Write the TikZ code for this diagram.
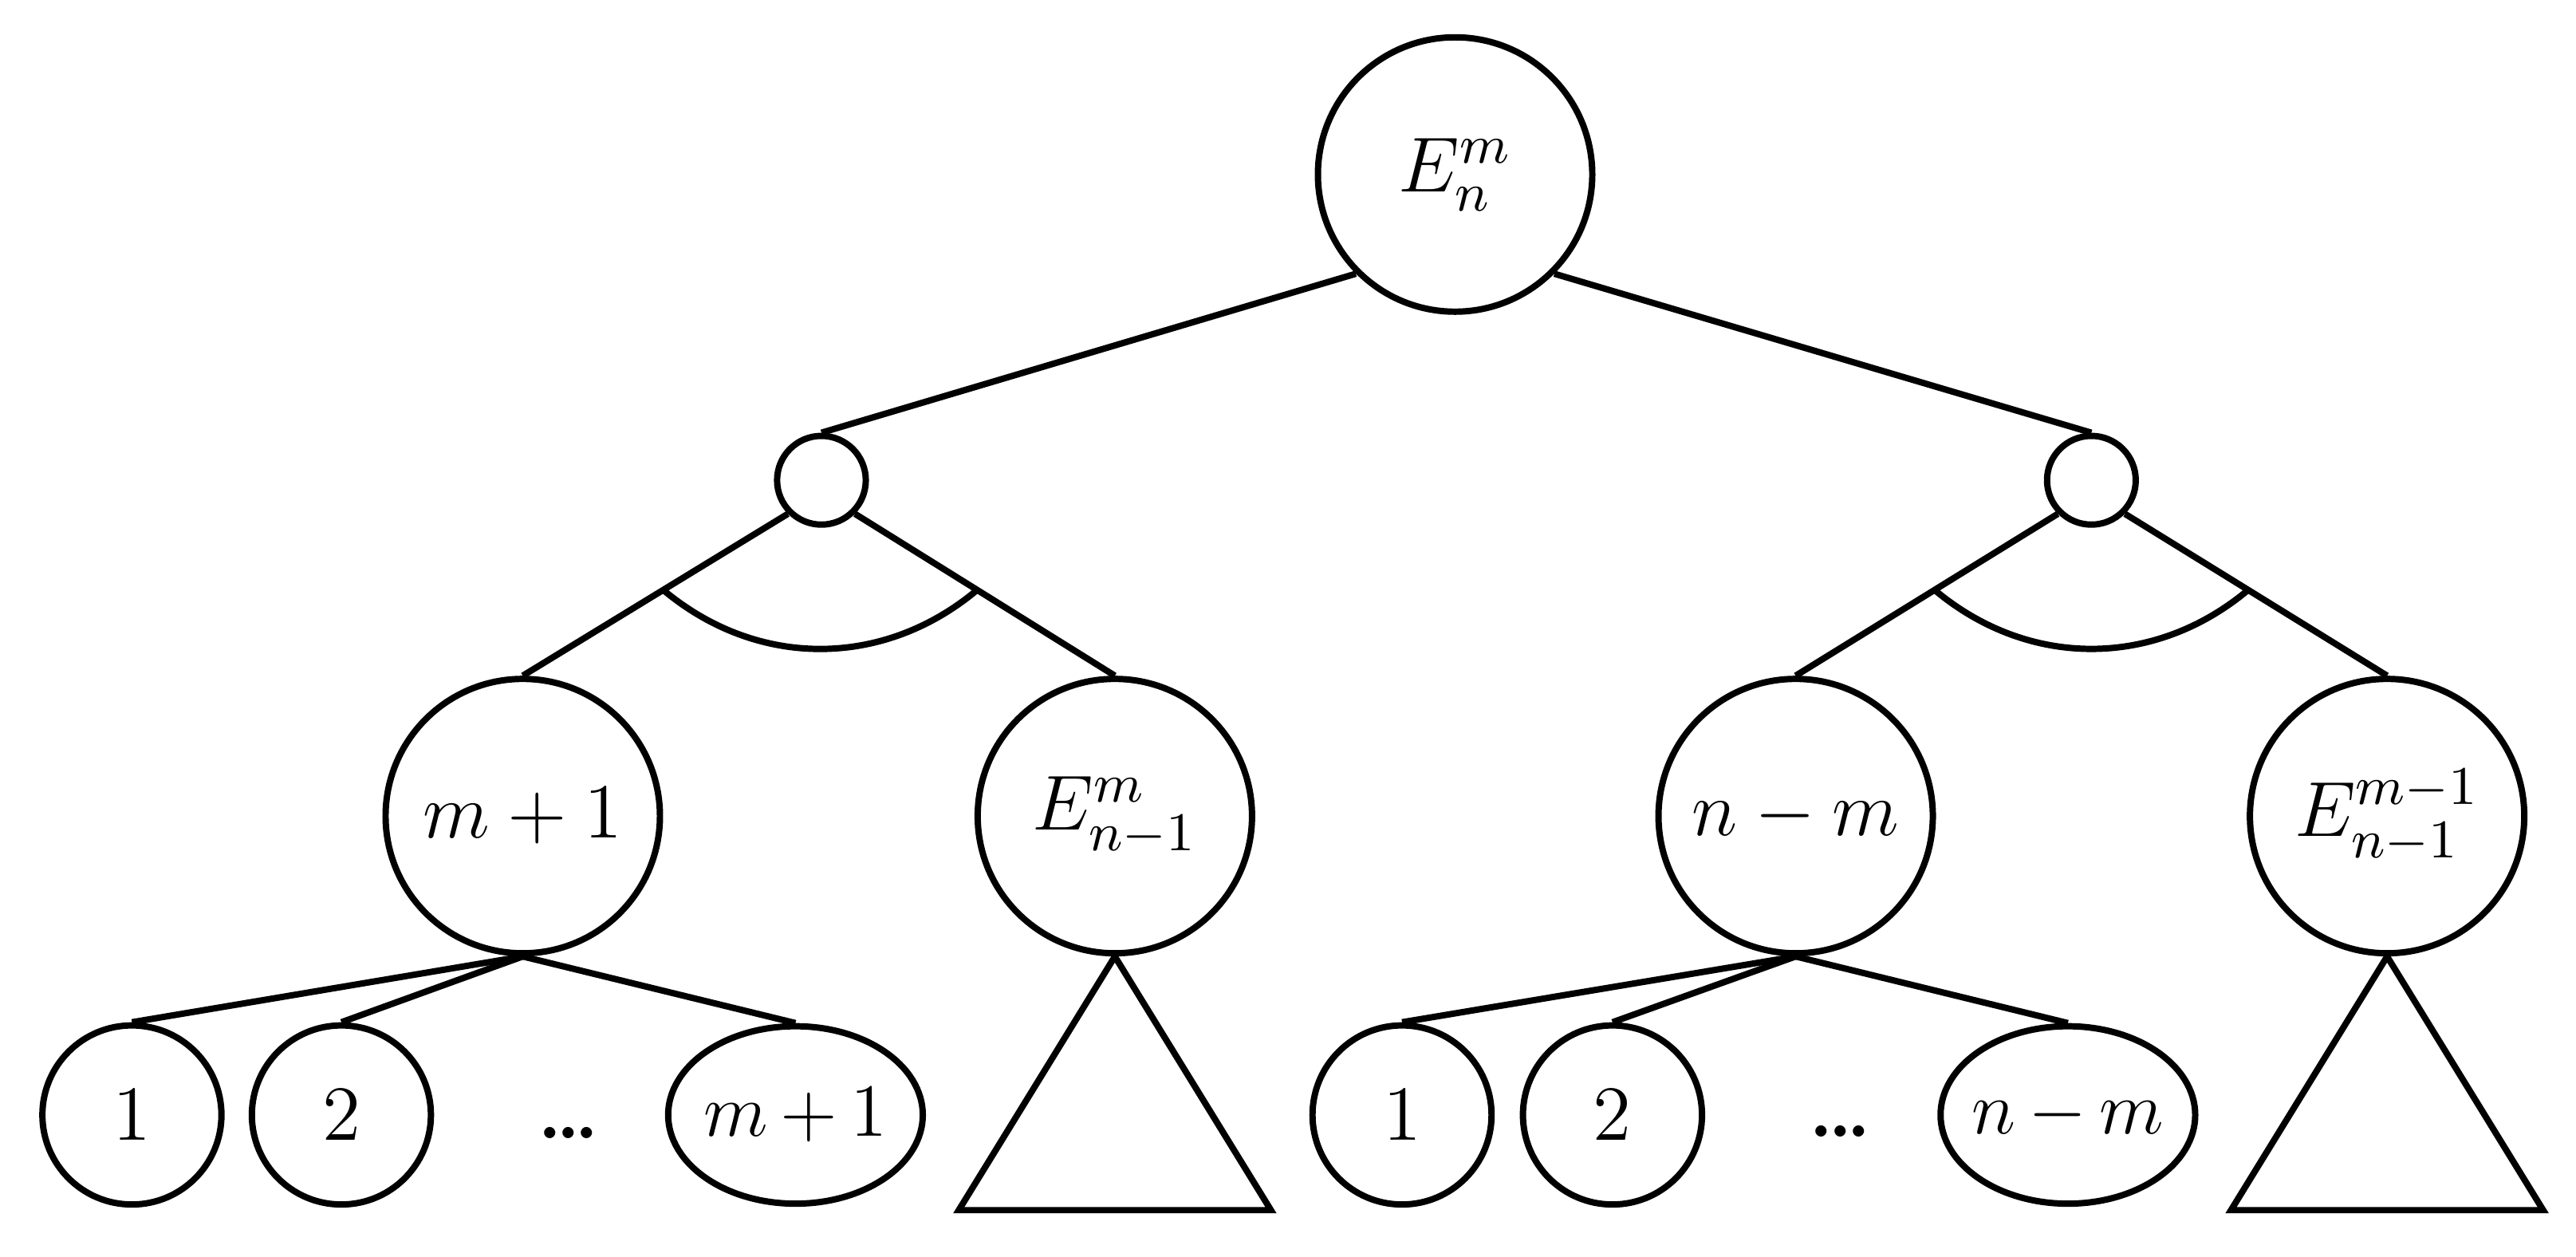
\RequirePackage{fix-cm}
\documentclass[tikz,border=0pt]{standalone}
\usepackage{amsmath}
\usetikzlibrary{shapes.geometric,calc}

\begin{document}
\begin{tikzpicture}[-,line width=1.1pt,font=\fontsize{13.5}{16}\selectfont,
  big/.style={circle,draw,inner sep=0pt,minimum size=1.67cm},
  knot/.style={circle,draw,inner sep=0pt,minimum size=0.54cm},
  leaf/.style={circle,draw,inner sep=0pt,minimum size=1.09cm},
  wide/.style={ellipse,draw,inner sep=0pt,minimum width=1.55cm,minimum height=1.08cm,
    font=\fontsize{13}{16}\selectfont}]

    \useasboundingbox (0,0) rectangle (15.68,7.646);

    % The tree
    \node [big] at (8.857,6.584) (E) {$E_n^m$};

    \node [knot] at (5.00,4.723) (kl) {};
    \node [knot] at (12.73,4.723) (kr) {};

    \node [big] at (3.182,2.679) (a) {$m+1$};
    \node [big] at (6.786,2.679) (b) {$E_{n-1}^m$};
    \node [big] at (10.93,2.679) (c) {$n-m$};
    \node [big] at (14.53,2.679) (d) {$E_{n-1}^{m-1}$};

    \node [leaf] at (0.803,0.86) (a1) {$1$};
    \node [leaf] at (2.078,0.86) (a2) {$2$};
    \node [wide] at (4.842,0.86) (a3) {\makebox[0pt]{\medmuskip=3mu $m+1$}};
    \node [anchor=base] at ($(a2.base)!0.5!(a3.base)$) (adots) {\textbf{.\kern-1pt.\kern-1pt.}};

    \node [leaf] at (8.534,0.86) (c1) {$1$};
    \node [leaf] at (9.815,0.86) (c2) {$2$};
    \node [wide] at (12.587,0.86) (c3) {\makebox[0pt]{\medmuskip=3mu $n-m$}};
    \node [anchor=base] at ($(c2.base)!0.5!(c3.base)$) (cdots) {\textbf{.\kern-1pt.\kern-1pt.}};

    % Tree branches
    \path
    (E.south west) edge (kl.north)
    (E.south east) edge (kr.north)
    (kl.south west) edge (a.north)
    (kl.south east) edge (b.north)
    (kr.south west) edge (c.north)
    (kr.south east) edge (d.north)
    (a.south) edge (a1.north) edge (a2.north) edge (a3.north)
    (c.south) edge (c1.north) edge (c2.north) edge (c3.north);

    % "and" arcs
    \coordinate (al) at ($(kl.south west)!0.47!(a.north)$);
    \coordinate (ar) at ($(kl.south east)!0.47!(b.north)$);
    \coordinate (cl) at ($(kr.south west)!0.47!(c.north)$);
    \coordinate (cr) at ($(kr.south east)!0.47!(d.north)$);
    \draw (al) to[bend right=40] (ar);
    \draw (cl) to[bend right=40] (cr);

    % Subtrees
    \draw (b.south) -- ++(-0.95,-1.544) -- ++(1.90,0) -- cycle;
    \draw (d.south) -- ++(-0.95,-1.544) -- ++(1.90,0) -- cycle;
\end{tikzpicture}
\end{document}
